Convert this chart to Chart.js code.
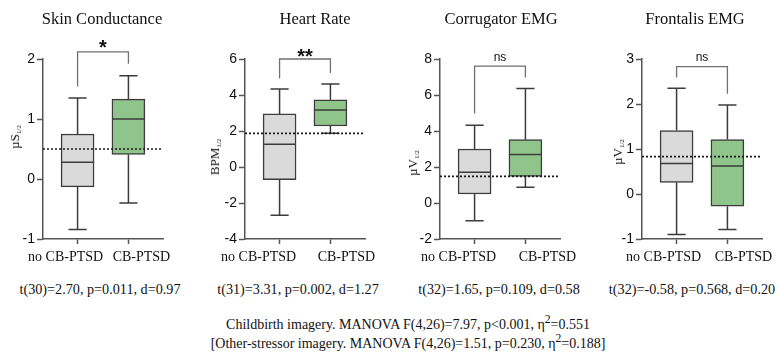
<!DOCTYPE html>
<html>
<head>
<meta charset="utf-8">
<script src="https://cdn.jsdelivr.net/npm/chart.js@4"></script>
<style>
body { margin: 0; background: #fff; }
#wrap { position: relative; width: 775px; height: 358px; overflow: hidden; font-family: 'Liberation Serif', serif; color: #111; }
#wrap canvas { position: absolute; top: 0; }
.txt { position: absolute; white-space: nowrap; transform: translate(-50%, -50%); }
.title { font-size: 16.5px; }
.stat { font-size: 14.2px; }
.cap { font-size: 14px; }
.ylab { font-size: 13px; transform: translate(-50%, -50%) rotate(-90deg); }
.ylab sub { font-size: 7px; vertical-align: -2px; }
</style>
</head>
<body>
<div id="wrap"></div>
<script>
// --- data ---
const groups = ['no CB-PTSD', 'CB-PTSD'];
const panelTitles = ['Skin Conductance', 'Heart Rate', 'Corrugator EMG', 'Frontalis EMG'];
const yUnits = ['µS', 'BPM', 'µV', 'µV'];
const statLines = [
    't(30)=2.70, p=0.011, d=0.97',
    't(31)=3.31, p=0.002, d=1.27',
    't(32)=1.65, p=0.109, d=0.58',
    't(32)=-0.58, p=0.568, d=0.20'
];
const sigMarks = ['*', '**', 'ns', 'ns'];
const captions = [
    'Childbirth imagery. MANOVA F(4,26)=7.97, p<0.001, η<sup>2</sup>=0.551',
    '[Other-stressor imagery. MANOVA F(4,26)=1.51, p=0.230, η<sup>2</sup>=0.188]'
];

// box stats per group: [no CB-PTSD, CB-PTSD]
const skinMin = [-0.84, -0.40];
const skinQ1 = [-0.13, 0.41];
const skinMed = [0.28, 1.00];
const skinQ3 = [0.75, 1.33];
const skinMax = [1.35, 1.72];

const hrMin = [-2.68, 1.87];
const hrQ1 = [-0.71, 2.28];
const hrMed = [1.26, 3.17];
const hrQ3 = [2.95, 3.73];
const hrMax = [4.33, 4.61];

const corMin = [-0.98, 0.87];
const corQ1 = [0.50, 1.47];
const corMed = [1.71, 2.69];
const corQ3 = [3.00, 3.52];
const corMax = [4.32, 6.36];

const froMin = [-0.90, -0.79];
const froQ1 = [0.26, -0.27];
const froMed = [0.68, 0.62];
const froQ3 = [1.41, 1.21];
const froMax = [2.35, 1.98];

// dotted reference line per panel
const refLine = [0.5, 1.87, 1.48, 0.83];
// significance bracket: top, left leg end, right leg end
const bracketTop = [2.12, 6.0, 7.6, 2.83];
const bracketLeft = [1.54, 4.92, 4.97, 2.59];
const bracketRight = [1.92, 5.22, 6.97, 2.23];

// y axis ticks
const yMin = [-1, -4, -2, -1];
const yMax = [2, 6, 8, 3];
const yStep = [1, 2, 2, 1];

// --- layout ---
const axisLeft = [43, 245, 440, 642];
const titleX = [102, 315, 501, 695];
const statX = [100, 298, 499, 692];
const yLabPos = [[15, 137], [215, 157], [413, 163], [618, 152]];
// group labels sit spread out from their tick marks in the original
const labelShift = [[-12, 13], [-21, 16], [-16, 22], [-13, 16]];
const sigSize = [20, 20, 12, 12];
const sigGap = [6, 5, 9, 9];

const boxFill = ['#dadada', '#8fc58a'];
const inkColor = '#3c3c3c';
const axisColor = '#555555';

const boxExtras = {
    id: 'boxExtras',
    afterDatasetsDraw(chart, args, opts) {
        const s = opts.stats;
        const i = opts.index;
        const ctx = chart.ctx;
        const xs = chart.scales.x;
        const ys = chart.scales.y;
        const bars = chart.getDatasetMeta(0).data;
        ctx.save();
        ctx.strokeStyle = inkColor;
        ctx.lineWidth = 1.5;
        for (let g = 0; g < groups.length; g++) {
            const cx = xs.getPixelForValue(g);
            const half = bars[g].width / 2;
            const cap = half * 0.55;
            const yq1 = ys.getPixelForValue(s.q1[g]);
            const yq3 = ys.getPixelForValue(s.q3[g]);
            const ylo = ys.getPixelForValue(s.min[g]);
            const yhi = ys.getPixelForValue(s.max[g]);
            const ymed = ys.getPixelForValue(s.med[g]);
            ctx.beginPath();
            ctx.moveTo(cx, yq3); ctx.lineTo(cx, yhi);
            ctx.moveTo(cx - cap, yhi); ctx.lineTo(cx + cap, yhi);
            ctx.moveTo(cx, yq1); ctx.lineTo(cx, ylo);
            ctx.moveTo(cx - cap, ylo); ctx.lineTo(cx + cap, ylo);
            ctx.moveTo(cx - half, ymed); ctx.lineTo(cx + half, ymed);
            ctx.stroke();
        }

        // dotted reference line
        const yr = ys.getPixelForValue(refLine[i]);
        ctx.strokeStyle = '#1a1a1a';
        ctx.lineWidth = 1.6;
        ctx.setLineDash([2, 2]);
        ctx.beginPath();
        ctx.moveTo(chart.chartArea.left, yr);
        ctx.lineTo(chart.chartArea.right, yr);
        ctx.stroke();
        ctx.setLineDash([]);

        // significance bracket
        const x0 = xs.getPixelForValue(0);
        const x1 = xs.getPixelForValue(1);
        const yt = ys.getPixelForValue(bracketTop[i]);
        ctx.strokeStyle = '#707070';
        ctx.lineWidth = 1.3;
        ctx.beginPath();
        ctx.moveTo(x0, ys.getPixelForValue(bracketLeft[i]));
        ctx.lineTo(x0, yt);
        ctx.lineTo(x1, yt);
        ctx.lineTo(x1, ys.getPixelForValue(bracketRight[i]));
        ctx.stroke();

        ctx.fillStyle = '#111';
        ctx.textAlign = 'center';
        ctx.textBaseline = 'middle';
        const mark = sigMarks[i];
        if (mark === 'ns') {
            ctx.font = sigSize[i] + 'px "Liberation Sans", sans-serif';
        } else {
            ctx.font = 'bold ' + sigSize[i] + 'px "Liberation Sans", sans-serif';
        }
        ctx.fillText(mark, (x0 + x1) / 2, yt - sigGap[i] - (mark === 'ns' ? 0 : -3));

        // group labels under the axis
        ctx.font = '14px "Liberation Serif", serif';
        for (let g = 0; g < groups.length; g++) {
            ctx.fillText(groups[g], xs.getPixelForValue(g) + labelShift[i][g], chart.chartArea.bottom + 18);
        }
        ctx.restore();
    }
};

function addText(cls, html, x, y) {
    const d = document.createElement('div');
    d.className = 'txt ' + cls;
    d.innerHTML = html;
    d.style.left = x + 'px';
    d.style.top = y + 'px';
    document.getElementById('wrap').appendChild(d);
}

function makePanel(i, stats) {
    const wrap = document.getElementById('wrap');
    const canvas = document.createElement('canvas');
    canvas.width = 190;
    canvas.height = 269;
    canvas.style.left = (axisLeft[i] - 43) + 'px';
    wrap.appendChild(canvas);

    new Chart(canvas, {
        type: 'bar',
        data: {
            datasets: [{
                data: groups.map((g, k) => ({ x: k, y: [stats.q1[k], stats.q3[k]] })),
                backgroundColor: boxFill,
                borderColor: inkColor,
                borderWidth: 1.5,
                borderSkipped: false,
                barThickness: 33
            }]
        },
        options: {
            responsive: false,
            animation: false,
            layout: { padding: { top: 59, right: 27, left: 0, bottom: 0 } },
            plugins: {
                legend: { display: false },
                tooltip: { enabled: false },
                boxExtras: { stats: stats, index: i }
            },
            scales: {
                x: {
                    type: 'linear',
                    offset: false,
                    min: -0.68,
                    max: 1.68,
                    afterBuildTicks: function(scale) {
                        scale.ticks = [{ value: 0 }, { value: 1 }];
                    },
                    afterFit: function(scale) { scale.height = 30; },
                    border: { display: true, color: axisColor, width: 1.5 },
                    grid: { offset: false, drawOnChartArea: false, tickLength: 5, tickColor: axisColor, tickWidth: 1.5 },
                    ticks: { display: false }
                },
                y: {
                    min: yMin[i],
                    max: yMax[i],
                    afterFit: function(scale) { scale.width = 43; },
                    border: { display: true, color: axisColor, width: 1.5 },
                    grid: { drawOnChartArea: false, tickLength: 6, tickColor: axisColor, tickWidth: 1.5 },
                    ticks: {
                        stepSize: yStep[i],
                        padding: 2,
                        color: '#111',
                        font: { family: '"Liberation Sans", sans-serif', size: 14 }
                    }
                }
            }
        },
        plugins: [boxExtras]
    });

    addText('title', panelTitles[i], titleX[i], 19);
    addText('stat', statLines[i], statX[i], 289);
    addText('ylab', yUnits[i] + '<sub>1/2</sub>', yLabPos[i][0], yLabPos[i][1]);
}

document.addEventListener('DOMContentLoaded', function() {
    makePanel(0, { min: skinMin, q1: skinQ1, med: skinMed, q3: skinQ3, max: skinMax });
    makePanel(1, { min: hrMin, q1: hrQ1, med: hrMed, q3: hrQ3, max: hrMax });
    makePanel(2, { min: corMin, q1: corQ1, med: corMed, q3: corQ3, max: corMax });
    makePanel(3, { min: froMin, q1: froQ1, med: froMed, q3: froQ3, max: froMax });
    addText('cap', captions[0], 408, 323);
    addText('cap', captions[1], 408, 342);
});
</script>
</body>
</html>
